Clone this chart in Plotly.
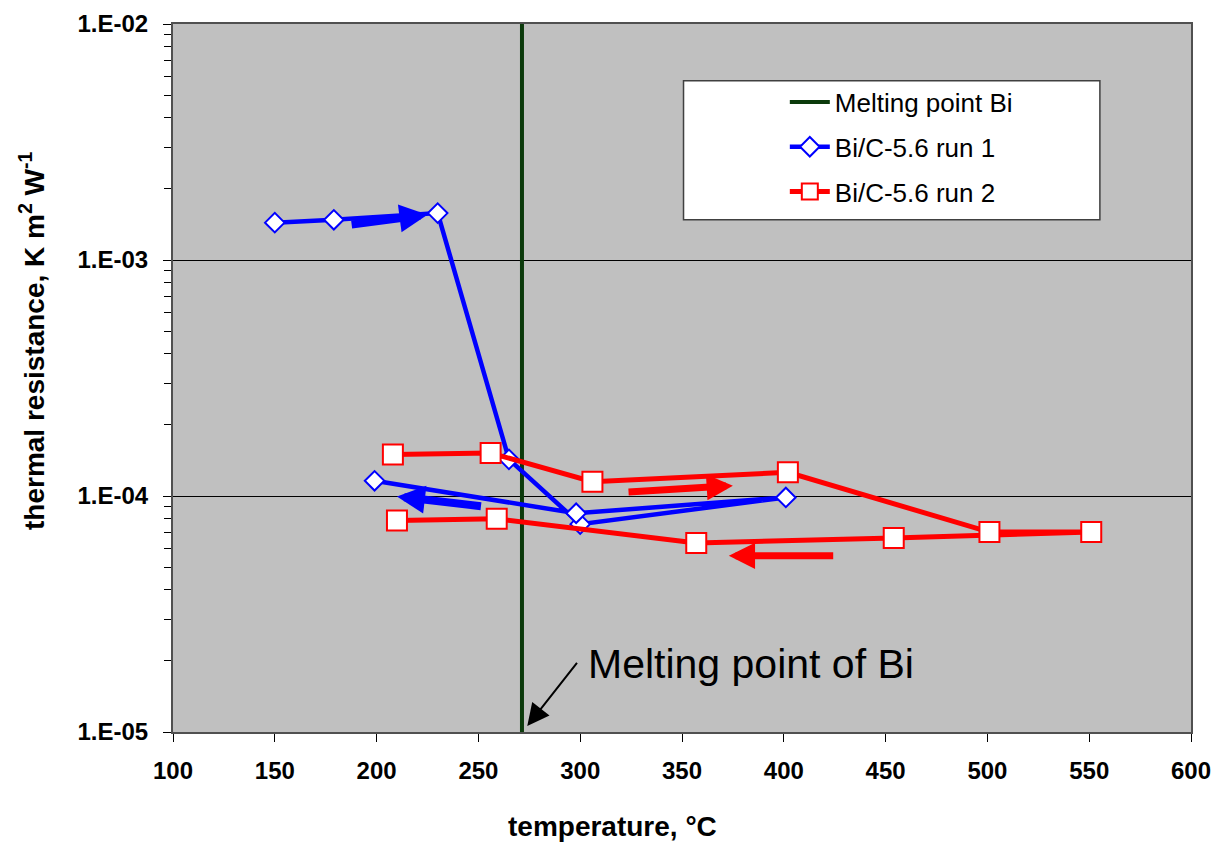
import math
import plotly.graph_objects as go

# ---- data ----
melt_T = 271.4
melt_y = [1e-5, 1e-2]

run1_T = [150, 179, 230, 265, 300, 401, 298, 199]
run1_R = [1.44e-3, 1.48e-3, 1.58e-3, 1.43e-4, 7.6e-5, 9.86e-5, 8.45e-5, 1.16e-4]

run2_T = [208, 256, 306, 402, 501, 551, 454, 357, 259, 210]
run2_R = [1.50e-4, 1.52e-4, 1.15e-4, 1.26e-4, 7.03e-5, 7.03e-5, 6.64e-5, 6.32e-5, 8.0e-5, 7.88e-5]

y_tickvals = [1e-5, 1e-4, 1e-3, 1e-2]
y_ticktext = ["1.E-05", "1.E-04", "1.E-03", "1.E-02"]
y_minor = [m * 10 ** e for e in range(-5, -2) for m in range(2, 10)]

# direction arrows: (tail T, tail R, head T, head R, colour, width, size)
arrows = [
    (187, 1.41e-3, 225, 1.556e-3, "#0000FF", 8, 0.7),
    (252, 9.04e-5, 210, 9.96e-5, "#0000FF", 8, 0.7),
    (323, 1.04e-4, 375, 1.106e-4, "#FF0000", 7, 0.75),
    (425, 5.58e-5, 373, 5.58e-5, "#FF0000", 7, 0.75),
    (299, 1.99e-5, 274, 1.06e-5, "#000000", 2, 2.2),
]

FONT = "Liberation Sans, Arial, sans-serif"

fig = go.Figure()
fig.add_trace(go.Scatter(
    x=[melt_T, melt_T], y=melt_y, mode="lines", name="Melting point Bi",
    line=dict(color="#0B3A0B", width=4), legendgroup="a"))
fig.add_trace(go.Scatter(
    x=run1_T, y=run1_R, mode="lines+markers", name="Bi/C-5.6 run 1",
    line=dict(color="#0000FF", width=4.5), legendgroup="b",
    marker=dict(symbol="diamond", size=15, color="white",
                line=dict(color="#0000FF", width=2))))
fig.add_trace(go.Scatter(
    x=run2_T, y=run2_R, mode="lines+markers", name="Bi/C-5.6 run 2",
    line=dict(color="#FF0000", width=5), legendgroup="c",
    marker=dict(symbol="square", size=20, color="white",
                line=dict(color="#FF0000", width=2))))

annotations = []
for tx, ty, hx, hy, col, w, s in arrows:
    annotations.append(dict(
        x=hx, y=math.log10(hy), ax=tx, ay=math.log10(ty),
        xref="x", yref="y", axref="x", ayref="y", text="",
        showarrow=True, arrowhead=2, arrowsize=s, arrowwidth=w,
        arrowcolor=col, standoff=0, startstandoff=0))

annotations.append(dict(
    x=303, y=-4.71, xref="x", yref="y", text="Melting point of Bi",
    showarrow=False, xanchor="left", yanchor="middle",
    font=dict(family=FONT, size=41, color="black")))

annotations.append(dict(
    x=-0.138, y=0.553, xref="paper", yref="paper", textangle=-90,
    text="<b>thermal resistance, K m<sup>2</sup> W<sup>-1</sup></b>",
    showarrow=False, xanchor="center", yanchor="middle",
    font=dict(family=FONT, size=28, color="black")))
annotations.append(dict(
    x=0.4317, y=-0.133, xref="paper", yref="paper",
    text="<b>temperature, \u00b0C</b>",
    showarrow=False, xanchor="center", yanchor="middle",
    font=dict(family=FONT, size=28, color="black")))

shapes = [dict(type="rect", xref="paper", yref="paper",
               x0=0.5015, x1=0.9105, y0=0.7236, y1=0.9199,
               fillcolor="white", line=dict(color="#404040", width=1.5),
               layer="above")]

fig.update_layout(
    width=1222, height=848,
    margin=dict(l=173, r=31, t=24, b=116),
    paper_bgcolor="white", plot_bgcolor="#C0C0C0",
    font=dict(family=FONT, color="black"),
    showlegend=True,
    legend=dict(x=0.601, y=0.923, xanchor="left", yanchor="top",
                bgcolor="rgba(0,0,0,0)", borderwidth=0,
                font=dict(family=FONT, size=26, color="black"),
                tracegroupgap=8, itemwidth=40),
    annotations=annotations, shapes=shapes,
    xaxis=dict(range=[100, 600], dtick=50, tick0=100, showgrid=False,
               zeroline=False, ticks="outside", ticklen=8, tickwidth=1,
               tickcolor="black", showline=True, mirror=True,
               linecolor="#505050", linewidth=2, automargin=False,
               tickfont=dict(family=FONT, size=24, weight="bold"),
               ticklabelstandoff=8),
    yaxis=dict(type="log", range=[-5, -2], tickmode="array",
               tickvals=y_tickvals, ticktext=y_ticktext,
               showgrid=True, gridcolor="black", gridwidth=1,
               zeroline=False, ticks="outside", ticklen=8, tickwidth=1,
               tickcolor="black", showline=True, mirror=True,
               linecolor="#505050", linewidth=2, automargin=False,
               tickfont=dict(family=FONT, size=24, weight="bold"),
               ticklabelstandoff=10,
               minor=dict(tickmode="array", tickvals=y_minor,
                          ticks="outside", ticklen=7, tickcolor="black",
                          showgrid=False)),
)

# remove the browser's default 8px body margin so the figure fills the window
fig.write_html("out.html",
               config={"displayModeBar": False},
               post_script="document.body.style.margin='0';")
